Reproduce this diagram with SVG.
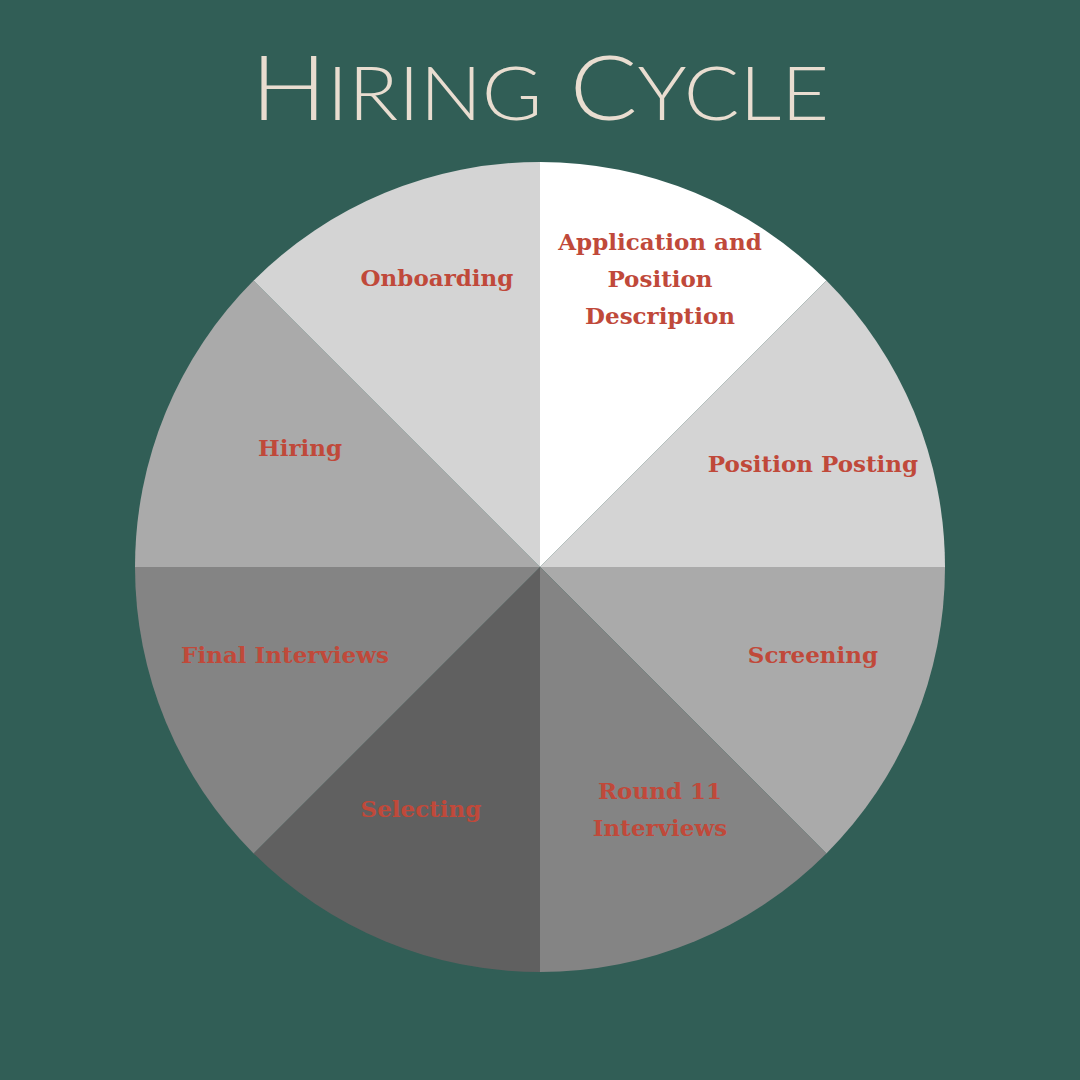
<svg xmlns="http://www.w3.org/2000/svg" width="1080" height="1080" viewBox="0 0 1080 1080">
<style>
.lbl{font-family:"Roboto Slab","DejaVu Serif","Liberation Serif",serif;font-weight:bold;font-size:23px;fill:#c0493a;text-anchor:middle}
.title{font-family:Lato,"Liberation Sans",sans-serif;font-weight:300;fill:#e9ddd0;text-anchor:middle}
</style>
<rect width="1080" height="1080" fill="#315e56"/>
<text class="title" x="540" y="120" font-size="90" textLength="578" lengthAdjust="spacingAndGlyphs">H<tspan font-size="74">IRING</tspan> C<tspan font-size="74">YCLE</tspan></text>
<g id="slices">
<g id="node-application"><path d="M540,567 L540,162 A405,405 0 0 1 826.4,280.6 Z" fill="#ffffff"/>
<text class="lbl" x="660" y="250">Application and</text><text class="lbl" x="660" y="287">Position</text><text class="lbl" x="660" y="324">Description</text></g>
<g id="node-posting"><path d="M540,567 L826.4,280.6 A405,405 0 0 1 945,567 Z" fill="#d4d4d4"/>
<text class="lbl" x="813" y="472">Position Posting</text></g>
<g id="node-screening"><path d="M540,567 L945,567 A405,405 0 0 1 826.4,853.4 Z" fill="#aaaaaa"/>
<text class="lbl" x="813" y="663">Screening</text></g>
<g id="node-round11"><path d="M540,567 L826.4,853.4 A405,405 0 0 1 540,972 Z" fill="#848484"/>
<text class="lbl" x="660" y="799">Round 11</text><text class="lbl" x="660" y="836">Interviews</text></g>
<g id="node-selecting"><path d="M540,567 L540,972 A405,405 0 0 1 253.6,853.4 Z" fill="#606060"/>
<text class="lbl" x="421" y="817">Selecting</text></g>
<g id="node-final"><path d="M540,567 L253.6,853.4 A405,405 0 0 1 135,567 Z" fill="#848484"/>
<text class="lbl" x="285" y="663">Final Interviews</text></g>
<g id="node-hiring"><path d="M540,567 L135,567 A405,405 0 0 1 253.6,280.6 Z" fill="#aaaaaa"/>
<text class="lbl" x="300" y="456">Hiring</text></g>
<g id="node-onboarding"><path d="M540,567 L253.6,280.6 A405,405 0 0 1 540,162 Z" fill="#d4d4d4"/>
<text class="lbl" x="437" y="286">Onboarding</text></g>
</g>
<g id="connectors"></g>
</svg>
